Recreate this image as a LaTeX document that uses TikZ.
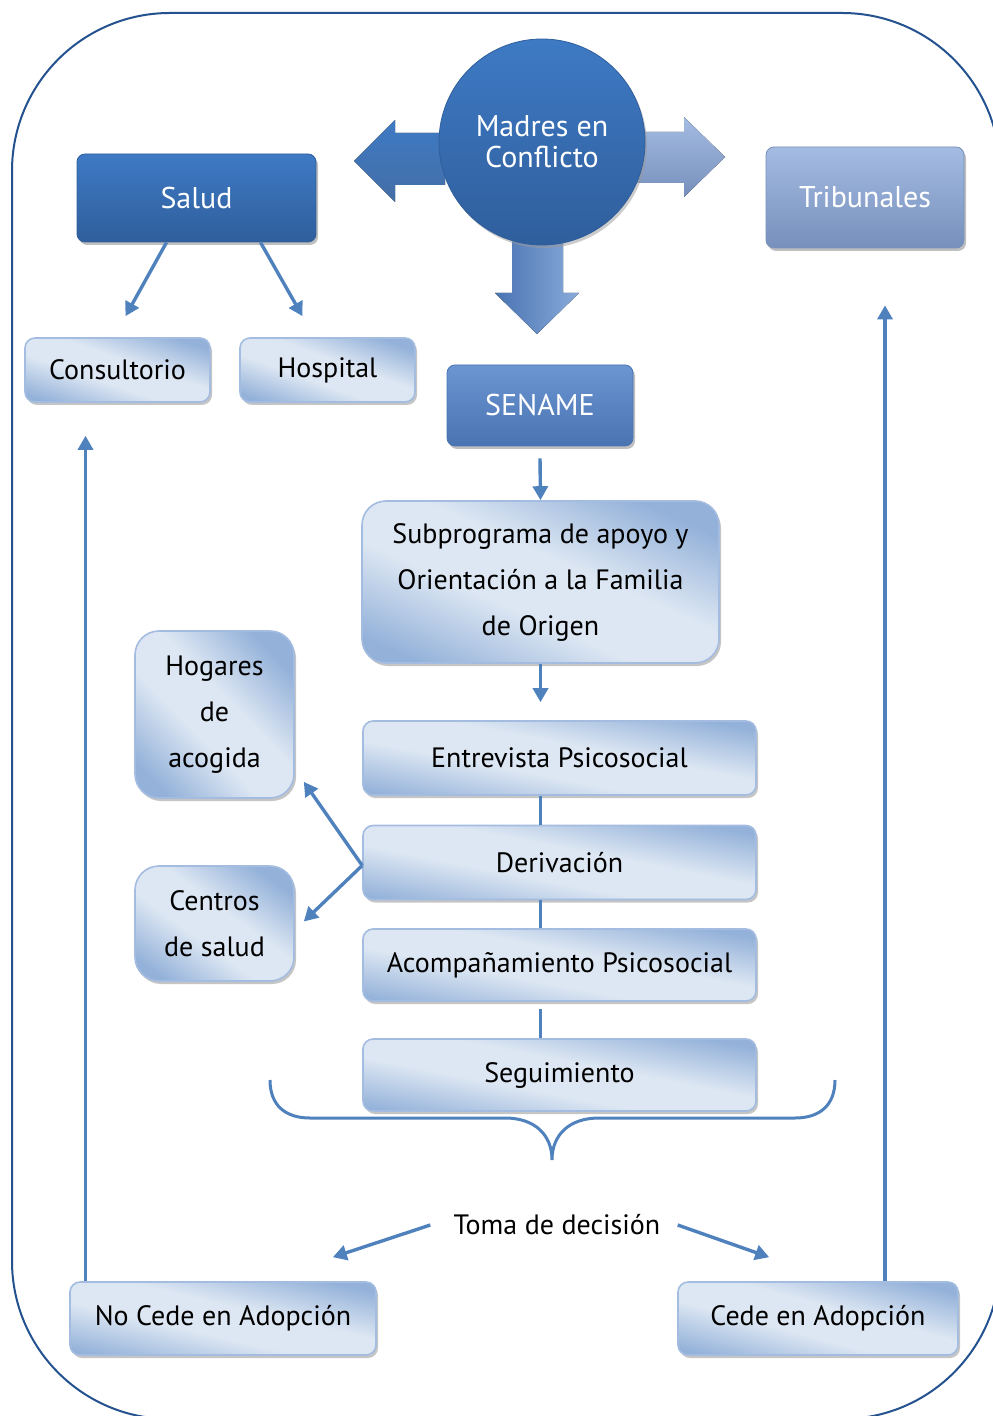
\documentclass[tikz,border=0pt]{standalone}
\usepackage{fontspec}
\setmainfont{PT Sans}
\usetikzlibrary{shapes,arrows,arrows.meta,positioning,shadows}

\definecolor{marco}{HTML}{24528F}
\definecolor{flecha}{HTML}{4F81BD}
\definecolor{azulosc}{HTML}{3E7AC4}
\definecolor{azulosc2}{HTML}{2F5E9C}
\definecolor{claro}{HTML}{DDE7F3}
\definecolor{claro2}{HTML}{93B1D9}
\definecolor{bordeclaro}{HTML}{A3BCE0}
\definecolor{trib}{HTML}{A4BCE2}
\definecolor{trib2}{HTML}{7790BC}
\definecolor{sena}{HTML}{6B96D1}
\definecolor{sena2}{HTML}{4A73B2}

\pgfdeclareverticalshading{caja}{100bp}{color(0bp)=(claro2); color(24bp)=(claro2); color(44bp)=(claro); color(58bp)=(claro); color(78bp)=(claro2); color(100bp)=(claro2)}

\begin{document}
\begin{tikzpicture}[x=0.5pt, y=-0.5pt,
  every node/.style = {font=\fontsize{14}{16}\selectfont},
  darkblock/.style = {rectangle, rounded corners=4pt, draw=azulosc2, top color=azulosc, bottom color=azulosc2, text=white, font=\fontsize{15}{16}\selectfont, drop shadow={shadow xshift=1pt, shadow yshift=-1.5pt, fill=black!50}},
  lightblock/.style = {rectangle, rounded corners=5pt, draw=bordeclaro, line width=0.8pt, shade, shading=caja, shading angle=169, text=black, drop shadow={shadow xshift=1pt, shadow yshift=-1.5pt, fill=black!45}},
  tallblock/.style = {lightblock, rounded corners=12pt, align=center, font=\fontsize{14}{23}\selectfont},
  line/.style = {draw=flecha, line width=1.7pt, -{Triangle[length=7pt,width=7.5pt]}},
  link/.style = {draw=flecha, line width=1.7pt}]
\useasboundingbox (0,0) rectangle (992,1416);
\draw[marco, line width=1pt, rounded corners=79pt] (12,13) rectangle (1000,1419);

% flechas grandes
\fill[top color=azulosc, bottom color=azulosc2!90] (445,133) -- (395,133) -- (395,120) -- (354,161) -- (395,202) -- (395,185) -- (445,185) -- cycle;
\fill[top color=trib, bottom color=trib2] (635,132) -- (684,132) -- (684,117) -- (725,157) -- (684,197) -- (684,183) -- (635,183) -- cycle;
\fill[left color=sena2, right color=sena!80!white] (512,230) -- (512,293) -- (495,293) -- (537,334) -- (579,293) -- (563,293) -- (563,230) -- cycle;
\node[circle, top color=azulosc, bottom color=azulosc2, draw=azulosc2, text=white, minimum size=103pt, inner sep=0pt, align=center, font=\fontsize{15}{15.5}\selectfont, drop shadow={shadow xshift=1pt, shadow yshift=-1.5pt, fill=black!40}] (madres) at (542,142) {Madres en\\Conflicto};

\node[darkblock, minimum width=119.5pt, minimum height=44pt] (salud) at (196.5,198) {Salud};
\node[darkblock, top color=trib, bottom color=trib2, draw=trib2, minimum width=99pt, minimum height=50.5pt] (tribunales) at (865,197.5) {Tribunales};
\node[lightblock, shading angle=161, minimum width=92.5pt, minimum height=32pt] (consultorio) at (117.5,370) {Consultorio};
\node[lightblock, shading angle=160, minimum width=87.5pt, minimum height=32pt] (hospital) at (327.5,370) {Hospital};
\node[darkblock, top color=sena, bottom color=sena2, draw=sena2, minimum width=93pt, minimum height=40.5pt] (sename) at (540,405.5) {SENAME};
\node[tallblock, shading angle=156, minimum width=178.5pt, minimum height=81pt] (subprograma) at (540.5,582) {Subprograma de apoyo y\\Orientación a la Familia\\de Origen};
\node[lightblock, minimum width=196.5pt, minimum height=37pt] (entrevista) at (559.5,758) {Entrevista Psicosocial};
\node[lightblock, minimum width=196.5pt, minimum height=37pt] (derivacion) at (559.5,862.5) {Derivación};
\node[lightblock, minimum width=196.5pt, minimum height=36pt] (acompanamiento) at (559.5,965) {Acompañamiento Psicosocial};
\node[lightblock, minimum width=196.5pt, minimum height=36pt] (seguimiento) at (559.5,1075) {Seguimiento};
\node[tallblock, shading angle=134, minimum width=79.5pt, minimum height=83.5pt] (hogares) at (214.5,714.5) {Hogares\\de\\acogida};
\node[tallblock, shading angle=144, minimum width=79.5pt, minimum height=57.5pt] (centros) at (214.5,923.5) {Centros\\de salud};
\node[inner sep=0pt] (toma) at (557,1225) {Toma de decisión};
\node[lightblock, shading angle=167, minimum width=153pt, minimum height=36.5pt] (nocede) at (223,1318.5) {No Cede en Adopción};
\node[lightblock, shading angle=165, minimum width=140pt, minimum height=36.5pt] (cede) at (818,1318.5) {Cede en Adopción};

% llave
\draw[flecha, line width=1.5pt] (270,1080) .. controls (270,1105) and (285,1118) .. (310,1118) -- (505,1118) .. controls (535,1118) and (552,1135) .. (552,1160) .. controls (552,1135) and (569,1118) .. (599,1118) -- (795,1118) .. controls (820,1118) and (835,1105) .. (835,1080);

\path[line] ([xshift=-15pt]salud.south) -- ([xshift=4pt,yshift=10.5pt]consultorio.north);
\path[line] ([xshift=32pt]salud.south) -- ([xshift=-12.5pt,yshift=10.5pt]hospital.north);
\path[line] ([yshift=-6pt]sename.south) -- (subprograma.north);
\path[line] (subprograma.south) -- ([yshift=9pt]subprograma.south |- entrevista.north);
\path[link] (subprograma.south |- entrevista.south) -- (subprograma.south |- derivacion.north);
\path[link] (subprograma.south |- derivacion.south) -- (subprograma.south |- acompanamiento.north);
\path[link] ([yshift=-3.5pt]subprograma.south |- acompanamiento.south) -- (subprograma.south |- seguimiento.north);
\path[line] ([yshift=-1.5pt]derivacion.west) -- ([xshift=4.5pt,yshift=8.5pt]hogares.south east);
\path[line] ([yshift=-1.5pt]derivacion.west) -- ([xshift=4.5pt,yshift=1pt]centros.east);
\path[line] ([xshift=-11.5pt]toma.west) -- ([xshift=-22pt,yshift=12pt]nocede.north east);
\path[line] ([xshift=8.5pt]toma.east) -- ([xshift=46pt,yshift=12pt]cede.north west);
\path[line] ([xshift=-16pt]consultorio.south |- nocede.north) -- ([xshift=-16pt,yshift=-16.5pt]consultorio.south);
\path[line] ([xshift=10pt]tribunales.south |- cede.north) -- ([xshift=10pt,yshift=-28.5pt]tribunales.south);
\end{tikzpicture}
\end{document}
